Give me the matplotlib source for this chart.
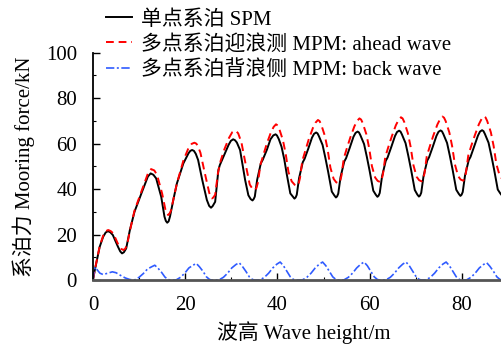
import matplotlib
matplotlib.use("Agg")
import matplotlib.pyplot as plt
from matplotlib.ticker import MultipleLocator

plt.rcParams['font.family'] = ['Liberation Serif', 'Noto Sans CJK SC']
plt.rcParams['axes.unicode_minus'] = False

# ── Data ──────────────────────────────────────────────────────────────────────
spm_x = [0, 0.7, 1.45, 2.2, 2.75, 3.25, 3.75, 4.3, 5.4, 5.9, 6.3, 6.7, 7.2, 8.0, 9.0,
         10.5, 11.9, 12.5, 13.1, 13.7, 14.8, 15.5, 15.8, 16.1, 16.4, 16.7, 17.5, 18.2,
         19.6, 20.7, 21.1, 21.5, 21.9, 22.3, 22.8, 23.7, 24.7, 25.2, 25.6, 25.95, 26.5,
         27.2, 27.5, 28.3, 29.4, 29.9, 30.4, 30.8, 31.2, 31.9, 33.0, 33.7, 34.2,
         34.6, 34.85, 35.1, 35.6, 36.4, 36.8, 37.7, 38.5, 39.1, 39.6, 39.9, 40.3, 40.9,
         41.5, 42.0, 42.8,
         43.35, 43.7, 43.95, 44.2, 44.7, 45.5, 45.9, 46.7, 47.5, 47.95, 48.4, 48.7, 49.0,
         49.8, 50.4, 51.0, 51.8,
         52.35, 52.7, 52.95, 53.2, 53.7, 54.5, 54.9, 55.7, 56.5, 56.95, 57.4, 57.7, 58.0,
         58.8, 59.4, 60.0, 60.8,
         61.35, 61.7, 61.95, 62.2, 62.7, 63.5, 63.9, 64.7, 65.5, 65.95, 66.4, 66.7, 67.0,
         67.8, 68.4, 69.0, 69.8,
         70.35, 70.7, 70.95, 71.2, 71.7, 72.5, 72.9, 73.7, 74.5, 74.95, 75.4, 75.7, 76.0,
         76.8, 77.4, 78.0, 78.8,
         79.35, 79.7, 79.95, 80.2, 80.7, 81.5, 81.9, 82.7, 83.5, 83.95, 84.4, 84.7, 85.0,
         85.8, 86.4, 87.0, 87.8,
         88.35, 88.7, 88.95, 89.2, 89.7, 90.5]
spm_y = [0.5, 7.3, 14.6, 19.0, 20.9, 21.5, 21.0, 19.8, 14.7, 12.6, 11.7, 12.2, 13.9, 22.0, 30.0,
         38.1, 45.5, 46.9, 46.3, 44.7, 36.6, 27.9, 26.0, 25.2, 25.8, 27.9, 36.0, 42.5,
         51.3, 55.7, 56.8, 57.2, 56.8, 55.5, 52.8, 44.0, 35.2, 32.6, 31.8, 32.5, 34.4,
         48.4, 50.5, 54.2, 59.4, 61.2, 61.9, 61.5, 60.5, 57.2, 44.0, 37.3, 35.6,
         35.0, 35.6, 36.7, 44.0, 51.3, 52.8, 57.2, 61.9, 63.6, 64.1, 63.6, 62.0, 58.6,
         53.0, 46.9, 38.1,
         36.7, 35.8, 36.3, 37.5, 44.8, 51.8, 53.3, 57.8, 62.6, 64.3, 64.9, 64.5, 63.3,
         59.4, 53.8, 47.7, 38.9,
         37.2, 36.3, 36.8, 38.0, 45.3, 52.1, 53.6, 58.2, 63.0, 64.7, 65.3, 64.9, 63.7,
         59.8, 54.2, 48.1, 39.3,
         37.5, 36.6, 37.1, 38.3, 45.6, 52.4, 53.9, 58.5, 63.3, 65.1, 65.7, 65.3, 64.1,
         60.2, 54.6, 48.5, 39.6,
         37.6, 36.7, 37.2, 38.4, 45.7, 52.5, 54.0, 58.6, 63.4, 65.2, 65.8, 65.4, 64.2,
         60.3, 54.7, 48.6, 39.7,
         37.9, 37.0, 37.5, 38.7, 46.0, 52.7, 54.2, 58.8, 63.5, 65.3, 65.9, 65.5, 64.3,
         60.4, 54.8, 48.7, 39.8,
         38.1, 37.2, 37.7, 38.9, 46.2, 52.9]

ahead_x = [0, 0.7, 1.45, 2.2, 2.8, 3.3, 3.85, 4.4, 5.5, 6.1, 6.6, 7.0, 7.4, 8.1, 9.0,
           10.5, 11.9, 12.6, 13.3, 13.9, 15.0, 15.7, 16.0, 16.3, 16.6, 16.9, 17.6, 18.2,
           19.6, 20.7, 21.4, 22.0, 22.4, 22.7, 23.3, 24.2, 25.2, 25.5, 25.8, 26.1, 26.5,
           27.1, 27.7, 28.5, 29.5, 30.2, 30.8, 31.15, 31.5, 32.2, 33.2, 34.0, 34.6,
           35.1, 35.45, 35.8, 36.3, 36.9, 37.7, 38.6, 39.2, 39.7, 40.05, 40.4, 41.2, 41.8,
           42.4, 43.1,
           43.75, 44.3, 44.6, 44.9, 45.4, 46.0, 46.8, 47.7, 48.3, 48.8, 49.15, 49.5, 50.3,
           50.9, 51.5, 52.2,
           52.75, 53.3, 53.6, 53.9, 54.4, 55.0, 55.8, 56.7, 57.3, 57.8, 58.15, 58.5, 59.3,
           59.9, 60.5, 61.2,
           61.75, 62.3, 62.6, 62.9, 63.4, 64.0, 64.8, 65.7, 66.3, 66.8, 67.15, 67.5, 68.3,
           68.9, 69.5, 70.2,
           70.75, 71.3, 71.6, 71.9, 72.4, 73.0, 73.8, 74.7, 75.3, 75.8, 76.15, 76.5, 77.3,
           77.9, 78.5, 79.2,
           79.75, 80.3, 80.6, 80.9, 81.4, 82.0, 82.8, 83.7, 84.3, 84.8, 85.15, 85.5, 86.3,
           86.9, 87.5, 88.2,
           88.75, 89.3, 89.6, 89.9, 90.4]
ahead_y = [0.3, 7.5, 14.8, 19.5, 21.5, 22.0, 21.5, 20.5, 15.5, 13.7, 13.2, 13.8, 15.5, 22.5, 30.5,
           39.0, 46.8, 48.8, 48.2, 46.2, 38.0, 31.0, 29.2, 28.6, 29.2, 30.5, 37.0, 42.5,
           52.5, 58.0, 59.9, 60.4, 60.0, 59.2, 56.0, 47.5, 38.5, 36.5, 35.9, 36.3, 37.5,
           47.0, 52.5, 57.5, 62.5, 65.0, 65.7, 65.3, 64.5, 60.5, 50.0, 42.0, 40.1,
           39.6, 40.5, 43.1, 50.6, 54.6, 60.0, 65.0, 67.4, 68.5, 68.0, 66.5, 61.5, 55.5,
           47.5, 43.4,
           41.9, 41.4, 42.3, 44.9, 52.4, 56.4, 61.9, 66.9, 69.3, 70.4, 69.9, 68.4, 63.4,
           57.4, 49.4, 44.5,
           43.0, 42.5, 43.4, 46.0, 53.5, 57.5, 62.6, 67.6, 70.0, 71.1, 70.6, 69.1, 64.1,
           58.1, 50.1, 45.1,
           43.6, 43.1, 44.0, 46.6, 54.1, 58.1, 63.1, 68.1, 70.5, 71.6, 71.1, 69.6, 64.6,
           58.6, 50.6, 45.4,
           43.9, 43.4, 44.3, 46.9, 54.4, 58.4, 63.4, 68.4, 70.8, 71.9, 71.4, 69.9, 64.9,
           58.9, 50.9, 45.7,
           44.2, 43.7, 44.6, 47.2, 54.7, 58.7, 63.5, 68.5, 70.9, 72.0, 71.5, 70.0, 65.0,
           59.0, 51.0, 46.0,
           44.5, 44.0, 44.9, 47.5, 55.0]

back_x = [0, 0.2, 0.5, 0.9, 1.5, 2.2, 3.2, 4.2, 5.0, 6.0, 7.0, 8.0, 9.0,
          10.0, 10.9, 11.8, 12.7, 13.4, 14.1, 14.9, 15.6, 16.3, 16.8,
          18.0, 19.0, 19.9, 20.8, 21.7, 22.4, 23.1, 23.9, 24.6, 25.3, 25.8,
          27.3, 28.3, 29.2, 30.1, 31.0, 31.7, 32.4, 33.2, 33.9, 34.6, 35.1,
          36.2, 37.2, 38.1, 39.0, 39.9, 40.6, 41.3, 42.1, 42.8, 43.5, 44.0,
          45.4, 46.4, 47.3, 48.2, 49.1, 49.8, 50.5, 51.3, 52.0, 52.7, 53.2,
          54.4, 55.4, 56.3, 57.2, 58.1, 58.8, 59.5, 60.3, 61.0, 61.7, 62.2,
          63.5, 64.5, 65.4, 66.3, 67.2, 67.9, 68.6, 69.4, 70.1, 70.8, 71.3,
          72.2, 73.2, 74.1, 75.0, 75.9, 76.6, 77.3, 78.1, 78.8, 79.5, 80.0,
          81.0, 82.0, 82.9, 83.8, 84.7, 85.4, 86.1, 86.9, 87.6, 88.3, 88.8, 90.0]
back_y = [0, 3.5, 5.6, 4.5, 3.0, 2.4, 3.0, 3.6, 3.2, 2.0, 0.9, 0.2, 0,
          1.2, 2.8, 4.8, 5.8, 6.5, 5.2, 3.3, 1.3, 0.2, 0,
          0, 1.2, 3.0, 5.3, 6.5, 7.3, 5.8, 3.7, 1.4, 0.2, 0,
          0, 1.2, 3.0, 5.3, 6.8, 7.6, 6.0, 3.7, 1.4, 0.2, 0,
          0, 1.2, 3.0, 5.3, 7.0, 7.9, 6.3, 3.7, 1.4, 0.2, 0,
          0, 1.2, 3.0, 5.3, 7.0, 7.9, 6.3, 3.7, 1.4, 0.2, 0,
          0, 1.2, 3.0, 5.3, 7.0, 7.9, 6.3, 3.7, 1.4, 0.2, 0,
          0, 1.2, 3.0, 5.3, 7.0, 7.9, 6.3, 3.7, 1.4, 0.2, 0,
          0, 1.2, 3.0, 5.3, 7.0, 7.9, 6.3, 3.7, 1.4, 0.2, 0,
          0, 1.2, 3.0, 5.3, 6.8, 7.6, 6.0, 3.7, 1.4, 0.2, 0, 0]

labels = ['单点系泊 SPM',
          '多点系泊迎浪测 MPM: ahead wave',
          '多点系泊背浪侧 MPM: back wave']

FS = 15

# ── Figure ────────────────────────────────────────────────────────────────────
W, H = 502, 348
fig = plt.figure(figsize=(W / 100, H / 100), dpi=100)
ax = fig.add_axes([93 / W, 68 / H, 1 - 93 / W, (280 - 52.7) / H])

l1, = ax.plot(spm_x, spm_y, color='black', lw=1.4)
l2, = ax.plot(ahead_x, ahead_y, color='#ff0000', lw=1.4, ls=(0, (4, 2.5)))
l3, = ax.plot(back_x, back_y, color='#2f5bff', lw=1.2, ls=(0, (5, 1.5, 1.2, 1.5)))

ax.set_xlim(0, (W - 93) / 4.61)
ax.set_ylim(0, 100)
ax.xaxis.set_major_locator(MultipleLocator(20))
ax.xaxis.set_minor_locator(MultipleLocator(10))
ax.yaxis.set_major_locator(MultipleLocator(20))
ax.yaxis.set_minor_locator(MultipleLocator(10))
ax.tick_params(which='both', direction='in', labelsize=FS, colors='black')
ax.tick_params(which='major', length=5, width=1.0)
ax.tick_params(which='minor', length=2.5, width=0.8)
ax.tick_params(axis='y', which='major', pad=11.5)
ax.tick_params(axis='x', which='major', pad=11.5)

for side in ('top', 'right'):
    ax.spines[side].set_visible(False)
ax.spines['left'].set_linewidth(1.3)
ax.spines['bottom'].set_linewidth(2.0)
ax.spines['bottom'].set_color('#555555')

ax.set_ylabel('系泊力 Mooring force/kN', fontsize=FS, va='center')
ax.yaxis.set_label_coords(-0.169, 0.5)
ax.set_xlabel('波高 Wave height/m', fontsize=FS, va='center')
ax.xaxis.set_label_coords(0.516, -0.233)

fig.legend([l1, l2, l3], labels, loc='upper left',
           bbox_to_anchor=(106 / W, 1 - 10 / H), frameon=False, fontsize=FS,
           borderpad=0, borderaxespad=0, handlelength=1.25, handletextpad=0.45,
           labelspacing=0.25)

fig.savefig('out.png', dpi=100)
